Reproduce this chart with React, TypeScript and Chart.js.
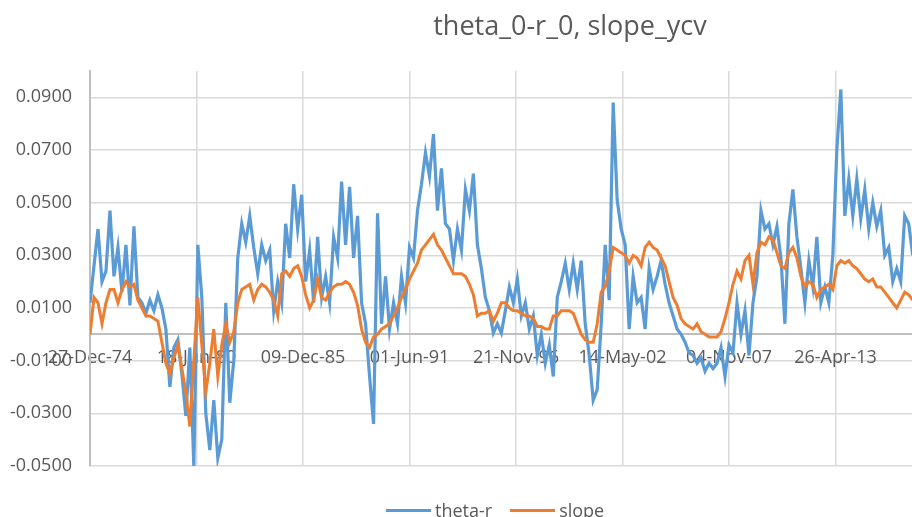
import React, { useEffect, useRef } from "react";
import { Chart, registerables } from "chart.js";

Chart.register(...registerables);

const TITLE = "theta_0-r_0, slope_ycv";
const SERIES_NAMES = ["theta-r", "slope"];
const SERIES_COLORS = ["#5B9BD5", "#ED7D31"];

// x values are day offsets from 27-Dec-74
const X_TICK_DAYS = [0, 2000, 4000, 6000, 8000, 10000, 12000, 14000];
const X_TICK_LABELS = ["27-Dec-74", "18-Jun-80", "09-Dec-85", "01-Jun-91", "21-Nov-96", "14-May-02", "04-Nov-07", "26-Apr-13"];
const Y_TICKS = [-0.05, -0.03, -0.01, 0.01, 0.03, 0.05, 0.07, 0.09];
const SAMPLE_STEP_DAYS = 75;

const THETA_R = [
  0.012, 0.026, 0.040, 0.020, 0.024, 0.047, 0.022, 0.033, 0.016, 0.034,
  0.011, 0.041, 0.014, 0.012, 0.008, 0.013, 0.009, 0.015, 0.010, 0.002,
  -0.020, -0.005, -0.002, -0.015, -0.031, -0.005, -0.050, 0.034, 0.014, -0.030,
  -0.044, -0.025, -0.047, -0.040, 0.012, -0.026, -0.010, 0.029, 0.042, 0.035,
  0.045, 0.033, 0.023, 0.034, 0.028, 0.032, 0.009, 0.020, 0.012, 0.042,
  0.029, 0.057, 0.040, 0.053, 0.020, 0.032, 0.012, 0.037, 0.014, 0.022,
  0.012, 0.037, 0.029, 0.058, 0.034, 0.056, 0.029, 0.045, 0.012, 0.004,
  -0.016, -0.034, 0.046, 0.004, 0.022, 0.002, 0.012, 0.004, 0.022, 0.012,
  0.033, 0.029, 0.047, 0.057, 0.069, 0.060, 0.076, 0.047, 0.063, 0.042,
  0.040, 0.028, 0.040, 0.032, 0.055, 0.047, 0.061, 0.034, 0.025, 0.014,
  0.009, 0.0005, 0.004, 0.0005, 0.009, 0.018, 0.012, 0.021, 0.007, 0.012,
  0.002, 0.007, -0.008, 0.000, -0.011, -0.004, -0.016, 0.014, 0.020, 0.027,
  0.017, 0.027, 0.017, 0.028, 0.004, -0.008, -0.025, -0.021, 0.004, 0.034,
  0.013, 0.088, 0.051, 0.040, 0.034, 0.002, 0.022, 0.012, 0.014, 0.002,
  0.025, 0.017, 0.022, 0.028, 0.019, 0.012, 0.007, 0.002, 0.000, -0.003,
  -0.007, -0.008, -0.011, -0.009, -0.014, -0.011, -0.013, -0.011, -0.005, -0.016,
  -0.004, -0.007, 0.012, 0.000, 0.009, -0.008, 0.012, 0.022, 0.047, 0.040,
  0.042, 0.034, 0.041, 0.029, 0.004, 0.042, 0.055, 0.037, 0.025, 0.012,
  0.028, 0.018, 0.037, 0.012, 0.018, 0.012, 0.030, 0.070, 0.093, 0.045,
  0.059, 0.045, 0.059, 0.044, 0.055, 0.040, 0.050, 0.041, 0.047, 0.030,
  0.033, 0.020, 0.025, 0.020, 0.045, 0.042, 0.030,
];

const SLOPE = [
  0.000, 0.014, 0.012, 0.004, 0.012, 0.017, 0.017, 0.012, 0.017, 0.020,
  0.018, 0.019, 0.013, 0.010, 0.007, 0.007, 0.006, 0.005, -0.003, -0.011,
  -0.015, -0.009, -0.004, -0.013, -0.022, -0.035, -0.010, 0.014, -0.004, -0.022,
  -0.011, 0.002, -0.016, -0.004, 0.004, -0.003, 0.001, 0.012, 0.017, 0.018,
  0.019, 0.013, 0.017, 0.019, 0.018, 0.016, 0.013, 0.007, 0.023, 0.024,
  0.022, 0.025, 0.026, 0.022, 0.015, 0.010, 0.013, 0.021, 0.014, 0.013,
  0.016, 0.018, 0.019, 0.019, 0.020, 0.019, 0.016, 0.011, 0.002, -0.003,
  -0.005, -0.001, 0.000, 0.002, 0.003, 0.004, 0.007, 0.010, 0.014, 0.017,
  0.021, 0.024, 0.027, 0.032, 0.034, 0.036, 0.038, 0.034, 0.032, 0.029,
  0.026, 0.023, 0.023, 0.023, 0.022, 0.019, 0.015, 0.007, 0.008, 0.008,
  0.009, 0.005, 0.008, 0.012, 0.012, 0.010, 0.009, 0.009, 0.008, 0.007,
  0.007, 0.006, 0.003, 0.003, 0.002, 0.002, 0.007, 0.007, 0.009, 0.009,
  0.009, 0.008, 0.004, 0.000, -0.002, -0.003, -0.003, 0.004, 0.016, 0.018,
  0.024, 0.033, 0.032, 0.031, 0.030, 0.027, 0.030, 0.029, 0.026, 0.033,
  0.035, 0.033, 0.032, 0.029, 0.026, 0.020, 0.014, 0.011, 0.006, 0.004,
  0.003, 0.002, 0.004, 0.001, 0.000, -0.001, -0.001, -0.001, 0.001, 0.006,
  0.012, 0.019, 0.024, 0.021, 0.028, 0.030, 0.019, 0.031, 0.035, 0.034,
  0.037, 0.036, 0.031, 0.026, 0.025, 0.031, 0.033, 0.029, 0.022, 0.018,
  0.020, 0.019, 0.014, 0.017, 0.018, 0.019, 0.017, 0.026, 0.028, 0.027,
  0.028, 0.026, 0.025, 0.023, 0.021, 0.020, 0.021, 0.018, 0.018, 0.016,
  0.014, 0.012, 0.010, 0.013, 0.016, 0.015, 0.013,
];

const FONT = "'Open Sans', 'Liberation Sans', sans-serif";
const TEXT_COLOR = "#595959";

export default function App() {
  const canvasRef = useRef<HTMLCanvasElement | null>(null);

  useEffect(() => {
    const canvas = canvasRef.current;
    if (!canvas) return;
    const toPoints = (arr: number[]) => arr.map((v, i) => ({ x: i * SAMPLE_STEP_DAYS, y: v }));
    const chart = new Chart(canvas, {
      type: "line",
      data: {
        datasets: [
          {
            label: SERIES_NAMES[0],
            data: toPoints(THETA_R),
            borderColor: SERIES_COLORS[0],
            backgroundColor: SERIES_COLORS[0],
            borderWidth: 3.2,
            pointRadius: 0,
            tension: 0,
            order: 2,
          },
          {
            label: SERIES_NAMES[1],
            data: toPoints(SLOPE),
            borderColor: SERIES_COLORS[1],
            backgroundColor: SERIES_COLORS[1],
            borderWidth: 3,
            pointRadius: 0,
            tension: 0,
            order: 1,
          },
        ],
      },
      options: {
        animation: false,
        responsive: false,
        layout: { padding: { top: 71, bottom: 51, left: 0, right: 58 } },
        plugins: {
          legend: { display: false },
          title: { display: false },
          tooltip: { enabled: false },
        },
        scales: {
          x: {
            type: "linear",
            min: 0,
            max: 16000,
            position: { y: 0 } as any,
            afterBuildTicks: (s: any) => {
              s.ticks = X_TICK_DAYS.map((v) => ({ value: v }));
            },
            ticks: {
              callback: (_v: any, i: number) => X_TICK_LABELS[i],
              autoSkip: false,
              maxRotation: 0,
              padding: 13,
              color: TEXT_COLOR,
              font: { family: FONT, size: 18 },
            },
            grid: { color: "#d9d9d9", lineWidth: 1.5, drawTicks: false },
            border: { color: "#bfbfbf", width: 2 },
          },
          y: {
            type: "linear",
            min: -0.05,
            max: 0.1,
            position: "left",
            afterBuildTicks: (s: any) => {
              s.ticks = Y_TICKS.map((v) => ({ value: v }));
            },
            afterFit: (s: any) => {
              s.width = 90;
            },
            ticks: {
              callback: (v: any) => Number(v).toFixed(4),
              padding: 18,
              color: TEXT_COLOR,
              font: { family: FONT, size: 18 },
            },
            grid: { color: "#d9d9d9", lineWidth: 1.5, drawTicks: false },
            border: { color: "#bfbfbf", width: 2 },
          },
        },
      },
    } as any);
    return () => chart.destroy();
  }, []);

  return (
    <div
      style={{
        position: "fixed",
        left: 0,
        top: 0,
        width: 912,
        height: 517,
        overflow: "hidden",
        background: "#ffffff",
        fontFamily: FONT,
      }}
    >
      <canvas
        ref={canvasRef}
        width={1000}
        height={517}
        style={{ position: "absolute", left: 0, top: 0, width: 1000, height: 517 }}
      />
      <div
        style={{
          position: "absolute",
          left: 570,
          top: 11,
          transform: "translateX(-50%)",
          whiteSpace: "nowrap",
          fontSize: 27,
          lineHeight: "27px",
          color: TEXT_COLOR,
        }}
      >
        {TITLE}
      </div>
      <div
        style={{
          position: "absolute",
          left: 386,
          top: 501,
          display: "flex",
          alignItems: "center",
          whiteSpace: "nowrap",
          fontSize: 18,
          lineHeight: "18px",
          color: TEXT_COLOR,
        }}
      >
        {SERIES_NAMES.map((name, i) => (
          <div key={name} style={{ display: "flex", alignItems: "center", marginRight: 18 }}>
            <span style={{ display: "inline-block", width: 45, height: 3, background: SERIES_COLORS[i], marginRight: 4 }} />
            <span>{name}</span>
          </div>
        ))}
      </div>
    </div>
  );
}
